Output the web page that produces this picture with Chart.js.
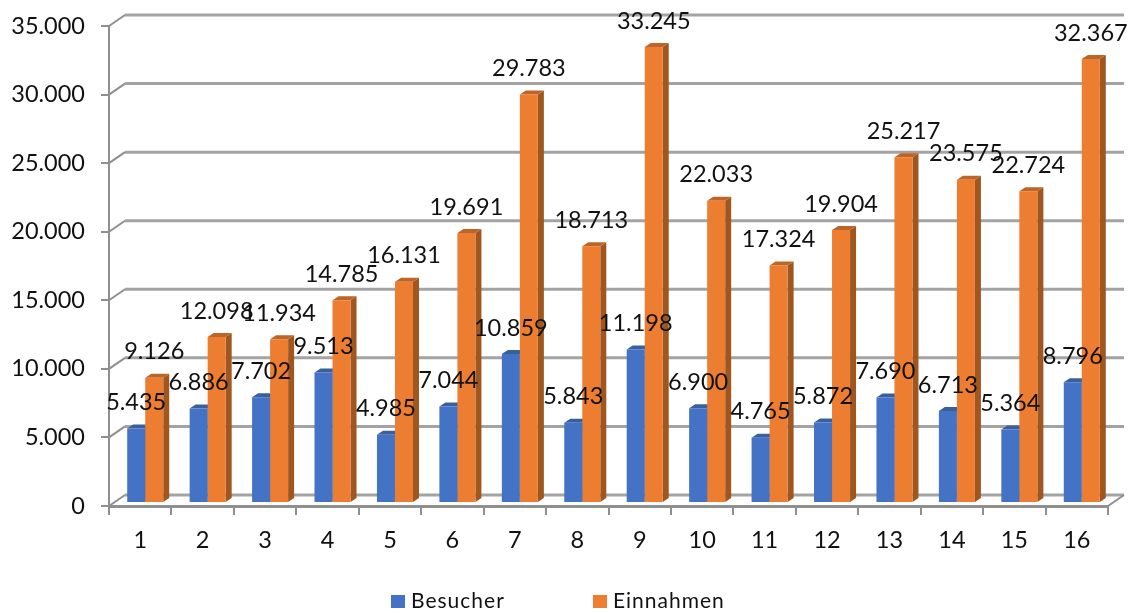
<!DOCTYPE html>
<html lang="de">
<head>
<meta charset="utf-8">
<title>Besucher und Einnahmen</title>
<script src="https://cdn.jsdelivr.net/npm/chart.js@4"></script>
<style>
    html, body { margin: 0; padding: 0; background: #fff; }
    canvas { display: block; }
</style>
</head>
<body>
<canvas id="chart" width="1130" height="613"></canvas>
<script>
const categories = ['1', '2', '3', '4', '5', '6', '7', '8', '9', '10', '11', '12', '13', '14', '15', '16'];
const besucher = [5435, 6886, 7702, 9513, 4985, 7044, 10859, 5843, 11198, 6900, 4765, 5872, 7690, 6713, 5364, 8796];
const einnahmen = [9126, 12098, 11934, 14785, 16131, 19691, 29783, 18713, 33245, 22033, 17324, 19904, 25217, 23575, 22724, 32367];

const FONT = 'Lato, sans-serif';
const TEXT_COLOR = '#111111';
const AXIS_COLOR = '#8f8f8f';
const WALL_COLOR = '#a3a3a3';

// Bars stand slightly inside the floor of the fake 3D box
const BAR_SHIFT = { x: 5, y: -3 };
const BAR_DEPTH = { x: 6, y: 4 };
const WALL_DEPTH = { x: 16, y: 11 };

const sideColors = ['#2f5597', '#a0561f'];
const topColors = ['#38609f', '#bd6526'];

function formatNumber(value) {
    return String(value).replace(/\B(?=(\d{3})+$)/g, '.');
}

// Back wall, floor edge and the little diagonals from the ticks
const wallPlugin = {
    id: 'wall',
    beforeDatasetsDraw(chart) {
        const { ctx, scales: { x, y } } = chart;
        ctx.save();
        y.ticks.forEach(tick => {
            const py = y.getPixelForValue(tick.value);
            ctx.strokeStyle = WALL_COLOR;
            ctx.lineWidth = 3;
            ctx.beginPath();
            ctx.moveTo(x.left + WALL_DEPTH.x, py - WALL_DEPTH.y);
            ctx.lineTo(x.right + WALL_DEPTH.x, py - WALL_DEPTH.y);
            ctx.stroke();

            ctx.strokeStyle = AXIS_COLOR;
            ctx.lineWidth = 2;
            ctx.beginPath();
            ctx.moveTo(x.left, py);
            ctx.lineTo(x.left + WALL_DEPTH.x, py - WALL_DEPTH.y);
            ctx.stroke();
        });
        ctx.beginPath();
        ctx.moveTo(x.right, y.bottom);
        ctx.lineTo(x.right + WALL_DEPTH.x, y.bottom - WALL_DEPTH.y);
        ctx.stroke();
        ctx.restore();
    }
};

// Side and top faces of each bar, the fronts are drawn by the bar controller
const barDepthPlugin = {
    id: 'barDepth',
    beforeDatasetsDraw(chart) {
        const { ctx } = chart;
        ctx.save();
        ctx.translate(BAR_SHIFT.x, BAR_SHIFT.y);
        chart.data.datasets.forEach((dataset, i) => {
            chart.getDatasetMeta(i).data.forEach(bar => {
                const left = bar.x - bar.width / 2;
                const right = bar.x + bar.width / 2;

                ctx.fillStyle = sideColors[i];
                ctx.beginPath();
                ctx.moveTo(right, bar.base);
                ctx.lineTo(right + BAR_DEPTH.x, bar.base - BAR_DEPTH.y);
                ctx.lineTo(right + BAR_DEPTH.x, bar.y - BAR_DEPTH.y);
                ctx.lineTo(right, bar.y);
                ctx.closePath();
                ctx.fill();

                ctx.fillStyle = topColors[i];
                ctx.beginPath();
                ctx.moveTo(left, bar.y);
                ctx.lineTo(left + BAR_DEPTH.x, bar.y - BAR_DEPTH.y);
                ctx.lineTo(right + BAR_DEPTH.x, bar.y - BAR_DEPTH.y);
                ctx.lineTo(right, bar.y);
                ctx.closePath();
                ctx.fill();
            });
        });
        // stays translated for the fronts, restored in afterDatasetsDraw
    },
    afterDatasetsDraw(chart) {
        chart.ctx.restore();
    }
};

const valueLabelPlugin = {
    id: 'valueLabels',
    afterDraw(chart) {
        const { ctx } = chart;
        ctx.save();
        ctx.font = '23.5px ' + FONT;
        ctx.fillStyle = TEXT_COLOR;
        ctx.textAlign = 'center';
        ctx.textBaseline = 'middle';
        chart.data.datasets.forEach((dataset, i) => {
            chart.getDatasetMeta(i).data.forEach((bar, j) => {
                ctx.fillText(formatNumber(dataset.data[j]), bar.x + BAR_SHIFT.x, bar.y + BAR_SHIFT.y - 26);
            });
        });
        ctx.restore();
    }
};

// Legend is drawn by hand: the built-in one ties item spacing to its height
const legendPlugin = {
    id: 'bottomLegend',
    afterDraw(chart) {
        const { ctx } = chart;
        const positions = [391, 593];
        ctx.save();
        ctx.font = '21px ' + FONT;
        ctx.letterSpacing = '1px';
        ctx.textBaseline = 'middle';
        chart.data.datasets.forEach((dataset, i) => {
            ctx.fillStyle = dataset.backgroundColor;
            ctx.fillRect(positions[i], 595, 14, 13);
            ctx.fillStyle = TEXT_COLOR;
            ctx.fillText(dataset.label, positions[i] + 20, 601);
        });
        ctx.restore();
    }
};

new Chart(document.getElementById('chart'), {
    type: 'bar',
    data: {
        labels: categories,
        datasets: [
            { label: 'Besucher', data: besucher, backgroundColor: '#4472c4' },
            { label: 'Einnahmen', data: einnahmen, backgroundColor: '#ed7d31' }
        ]
    },
    plugins: [wallPlugin, barDepthPlugin, valueLabelPlugin, legendPlugin],
    options: {
        responsive: false,
        animation: false,
        layout: { padding: { top: 26, right: 22 } },
        plugins: {
            legend: { display: false },
            tooltip: { enabled: false }
        },
        datasets: {
            bar: { categoryPercentage: 0.577, barPercentage: 1 }
        },
        scales: {
            x: {
                afterFit(scale) { scale.height = 107; },
                grid: {
                    drawOnChartArea: false,
                    color: AXIS_COLOR,
                    tickLength: 9,
                    lineWidth: 2
                },
                border: { color: AXIS_COLOR, width: 3 },
                ticks: {
                    color: TEXT_COLOR,
                    font: { family: FONT, size: 23.5 },
                    padding: 11,
                    maxRotation: 0
                }
            },
            y: {
                min: 0,
                max: 35000,
                afterFit(scale) {
                    scale.width = 109;
                    // the axis runs right up to the layout padding
                    scale.paddingTop = 0;
                    scale.paddingBottom = 0;
                },
                grid: {
                    drawOnChartArea: false,
                    color: AXIS_COLOR,
                    tickLength: 8,
                    lineWidth: 2
                },
                border: { color: AXIS_COLOR, width: 2 },
                ticks: {
                    stepSize: 5000,
                    color: TEXT_COLOR,
                    font: { family: FONT, size: 23.5 },
                    padding: 16,
                    callback: value => formatNumber(value)
                }
            }
        }
    }
});
</script>
</body>
</html>
